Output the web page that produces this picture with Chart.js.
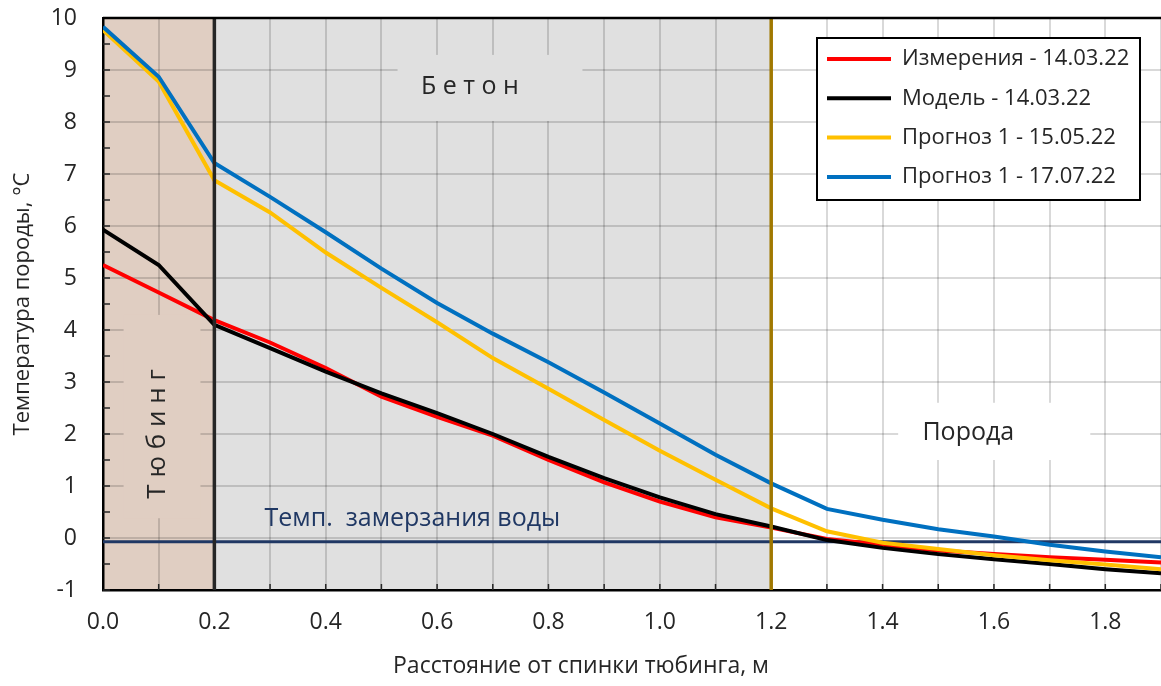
<!DOCTYPE html>
<html>
<head>
<meta charset="utf-8">
<script src="https://cdn.jsdelivr.net/npm/chart.js@4.4.1/dist/chart.umd.min.js"></script>
<style>
  html, body { margin: 0; padding: 0; background: #fff; }
  #wrap { width: 1161px; height: 686px; position: relative; }
</style>
</head>
<body>
<div id="wrap"><canvas id="tempChart"></canvas></div>
<script>
// distance from the back of the lining, m
const distances = [0.0, 0.1, 0.2, 0.3, 0.4, 0.5, 0.6, 0.7, 0.8, 0.9,
                   1.0, 1.1, 1.2, 1.3, 1.4, 1.5, 1.6, 1.7, 1.8, 1.9];

// rock temperature, °C
const measured    = [5.25, 4.72, 4.19, 3.76, 3.27, 2.72, 2.33, 1.97, 1.50, 1.07,
                     0.70, 0.40, 0.20, -0.02, -0.13, -0.24, -0.31, -0.37, -0.42, -0.47];
const model       = [5.93, 5.25, 4.10, 3.65, 3.20, 2.78, 2.40, 2.00, 1.56, 1.15,
                     0.78, 0.46, 0.22, -0.04, -0.19, -0.31, -0.41, -0.50, -0.60, -0.68];
const forecastMay = [9.77, 8.78, 6.88, 6.26, 5.49, 4.81, 4.15, 3.46, 2.87, 2.27,
                     1.68, 1.12, 0.57, 0.13, -0.09, -0.21, -0.33, -0.43, -0.51, -0.60];
const forecastJul = [9.83, 8.87, 7.21, 6.56, 5.88, 5.18, 4.52, 3.93, 3.38, 2.80,
                     2.20, 1.60, 1.05, 0.56, 0.35, 0.17, 0.03, -0.13, -0.26, -0.37];

const seriesLabels = ["Измерения - 14.03.22", "Модель - 14.03.22",
                      "Прогноз 1 - 15.05.22", "Прогноз 1 - 17.07.22"];
const freezeTemp = -0.07;
const freezeLabel = "Темп.  замерзания воды";

// zone edges along x and their captions
const zoneEdges = [0.0, 0.2, 1.2, 1.9];
const zoneNames = ["Т ю б и н г", "Б е т о н", "Порода"];

const FONT = "'Open Sans', sans-serif";
const colors = ["#ff0000", "#000000", "#ffc000", "#0070c0"];

function toPoints(ys) {
  return distances.map((d, i) => ({ x: d, y: ys[i] }));
}

function noPadding(s) {
  s.paddingTop = 0;
  s.paddingBottom = 0;
  s.paddingLeft = 0;
  s.paddingRight = 0;
}

// 🎨 zones, captions, borders and legend
const zonePlugin = {
  id: "zones",
  beforeDraw(chart) {
    const { ctx, chartArea: a, scales: { x } } = chart;
    const px = v => x.getPixelForValue(v);
    ctx.save();
    ctx.fillStyle = "#e0cec2";
    ctx.fillRect(px(zoneEdges[0]), a.top, px(zoneEdges[1]) - px(zoneEdges[0]), a.bottom - a.top);
    ctx.fillStyle = "#e0e0e0";
    ctx.fillRect(px(zoneEdges[1]), a.top, px(zoneEdges[2]) - px(zoneEdges[1]), a.bottom - a.top);
    ctx.restore();
  },
  beforeDatasetsDraw(chart) {
    const { ctx, chartArea: a, scales: { x, y } } = chart;
    const px = v => x.getPixelForValue(v);
    const py = v => y.getPixelForValue(v);
    const box = (x0, x1, y0, y1, fill) => {
      ctx.fillStyle = fill;
      ctx.fillRect(px(x0), py(y0), px(x1) - px(x0), py(y1) - py(y0));
    };
    ctx.save();

    // caption boxes hide the grid
    box(0.037, 0.175, 4.29, 0.38, "#e0cec2");
    box(0.529, 0.861, 9.29, 8.02, "#e0e0e0");
    box(1.428, 1.773, 2.60, 1.50, "#ffffff");

    // inner tick marks
    ctx.strokeStyle = "#262626";
    ctx.lineWidth = 1.5;
    ctx.beginPath();
    for (let v = -1; v <= 10; v += 0.5) {
      ctx.moveTo(a.left, py(v));
      ctx.lineTo(a.left + 7, py(v));
    }
    for (let i = 1; i < distances.length; i++) {
      ctx.moveTo(px(distances[i]), a.bottom);
      ctx.lineTo(px(distances[i]), a.bottom - 6);
    }
    ctx.stroke();

    // captions
    ctx.fillStyle = "#262626";
    ctx.textAlign = "center";
    ctx.textBaseline = "middle";
    ctx.font = `25px ${FONT}`;
    ctx.fillText(zoneNames[1], px(0.659), py(8.67));
    ctx.fillText(zoneNames[2], px(1.554), py(2.02));

    ctx.save();
    ctx.font = `26px ${FONT}`;
    ctx.translate(px(0.098), py(2.0));
    ctx.rotate(-Math.PI / 2);
    ctx.fillText(zoneNames[0], 0, 0);
    ctx.restore();

    ctx.fillStyle = "#203864";
    ctx.textAlign = "left";
    ctx.font = `25px ${FONT}`;
    ctx.fillText(freezeLabel, px(0.29), py(0.37));

    ctx.restore();
  },
  afterDatasetsDraw(chart) {
    const { ctx, chartArea: a, scales: { x } } = chart;
    const px = v => x.getPixelForValue(v);
    ctx.save();

    // zone borders
    ctx.lineWidth = 3.5;
    ctx.strokeStyle = "#262626";
    ctx.beginPath();
    ctx.moveTo(px(zoneEdges[1]), a.top);
    ctx.lineTo(px(zoneEdges[1]), a.bottom);
    ctx.stroke();
    ctx.strokeStyle = "#a07800";
    ctx.beginPath();
    ctx.moveTo(px(zoneEdges[2]), a.top);
    ctx.lineTo(px(zoneEdges[2]), a.bottom);
    ctx.stroke();

    // top frame
    ctx.strokeStyle = "#000";
    ctx.lineWidth = 2.5;
    ctx.beginPath();
    ctx.moveTo(a.left, a.top);
    ctx.lineTo(a.right, a.top);
    ctx.stroke();

    // legend
    const bx = a.right - 344, by = a.top + 20, bw = 323, bh = 162;
    ctx.fillStyle = "#fff";
    ctx.fillRect(bx, by, bw, bh);
    ctx.lineWidth = 2;
    ctx.strokeStyle = "#000";
    ctx.strokeRect(bx, by, bw, bh);
    ctx.font = `22px ${FONT}`;
    ctx.textAlign = "left";
    ctx.textBaseline = "middle";
    chart.data.datasets.slice(0, 4).forEach((ds, i) => {
      const ry = by + 21 + i * 39.3;
      ctx.strokeStyle = ds.borderColor;
      ctx.lineWidth = 4;
      ctx.beginPath();
      ctx.moveTo(bx + 10, ry);
      ctx.lineTo(bx + 74, ry);
      ctx.stroke();
      ctx.fillStyle = "#262626";
      ctx.fillText(ds.label, bx + 85, ry);
    });

    // x axis title
    ctx.font = `23px ${FONT}`;
    ctx.textAlign = "center";
    ctx.fillStyle = "#262626";
    ctx.fillText("Расстояние от спинки тюбинга, м", 581, 666);

    ctx.restore();
  }
};

const datasets = [measured, model, forecastMay, forecastJul].map((ys, i) => ({
  label: seriesLabels[i],
  data: toPoints(ys),
  borderColor: colors[i],
  borderWidth: 4,
  pointRadius: 0,
  tension: 0,
  order: 4 - i
}));

datasets.push({
  label: "freeze",
  data: [{ x: distances[0], y: freezeTemp }, { x: distances[distances.length - 1], y: freezeTemp }],
  borderColor: "#203864",
  borderWidth: 3,
  pointRadius: 0,
  order: 10
});

new Chart(document.getElementById("tempChart"), {
  type: "line",
  data: { datasets },
  options: {
    responsive: true,
    maintainAspectRatio: false,
    animation: false,
    layout: { padding: { top: 18, right: 0, left: 0, bottom: 0 } },
    plugins: {
      legend: { display: false },
      tooltip: { enabled: false }
    },
    scales: {
      x: {
        type: "linear",
        min: 0,
        max: 1.9,
        grid: { color: "rgba(0,0,0,0.15)", lineWidth: 2, drawTicks: false },
        border: { color: "#000", width: 2.5 },
        ticks: {
          stepSize: 0.1,
          autoSkip: false,
          maxRotation: 0,
          padding: 19,
          color: "#262626",
          font: { family: FONT, size: 23 },
          callback: v => (Math.round(v * 10) % 2 === 0 ? v.toFixed(1) : "")
        },
        afterFit: s => { s.height = 96; noPadding(s); }
      },
      y: {
        min: -1,
        max: 10,
        grid: { color: "rgba(0,0,0,0.15)", lineWidth: 2, drawTicks: false },
        border: { color: "#000", width: 2.5 },
        ticks: {
          stepSize: 0.5,
          padding: 26,
          color: "#262626",
          font: { family: FONT, size: 23 },
          callback: v => (Number.isInteger(v) ? String(v) : "")
        },
        title: {
          display: true,
          text: "Температура породы, °C",
          color: "#262626",
          font: { family: FONT, size: 22 },
          padding: { top: 10, bottom: 0 }
        },
        afterFit: s => { s.width = 103; noPadding(s); }
      }
    }
  },
  plugins: [zonePlugin]
});
</script>
</body>
</html>
